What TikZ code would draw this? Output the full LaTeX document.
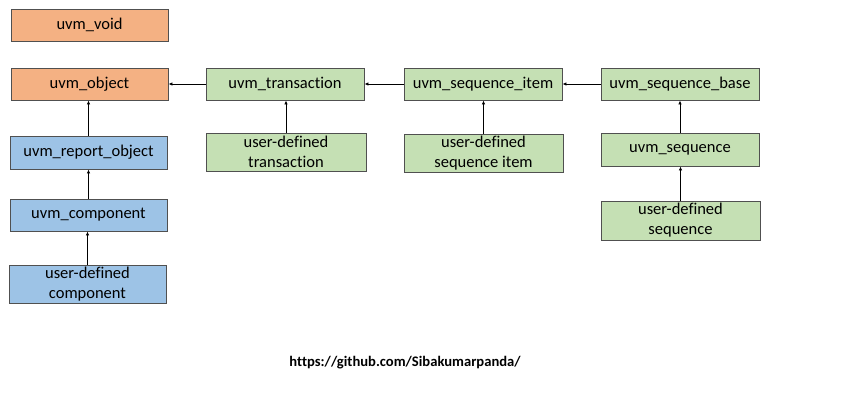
\documentclass[tikz,border=0pt]{standalone}
\usepackage{fontspec}
\setmainfont{Carlito}[RawFeature={-liga;-dlig;-clig}]
\usepackage{tikz}
\usetikzlibrary{arrows.meta}
\definecolor{orangebox}{HTML}{F4B183}
\definecolor{bluebox}{HTML}{9DC3E6}
\definecolor{greenbox}{HTML}{C5E0B4}
\definecolor{edgegrey}{HTML}{505050}
\tikzset{
  cls/.style={draw=edgegrey, line width=0.9pt, minimum width=157pt, minimum height=32pt,
    inner sep=0pt, align=center, font=\fontsize{16.5}{20}\selectfont},
  basecls/.style={cls, fill=orangebox},
  compcls/.style={cls, fill=bluebox},
  seqcls/.style={cls, fill=greenbox},
  inherit/.style={draw=edgegrey, line width=0.8pt, -{Latex[length=4pt,width=3.5pt]}, black}
}

\begin{document}
\begin{tikzpicture}[x=1pt, y=-1pt]
        \useasboundingbox (0,0) rectangle (844,413);
        % base classes
        \node[basecls] (void) at (89.5,25) {uvm\_void};
        \node[basecls] (object) at (89.5,84) {uvm\_object};
        % component side
        \node[compcls, minimum height=33pt] (report) at (88.5,152.5) {uvm\_report\_object};
        \node[compcls] (component) at (88.5,215) {uvm\_component};
        \node[compcls, minimum height=38pt] (udcomponent) at (87.5,284) {user-defined\\component};
        % transaction side
        \node[seqcls, minimum width=158pt] (transaction) at (285,84) {uvm\_transaction};
        \node[seqcls, minimum width=160pt, minimum height=38pt] (udtransaction) at (286,152) {user-defined\\transaction};
        \node[seqcls, minimum width=158pt] (seqitem) at (483,84) {uvm\_sequence\_item};
        \node[seqcls, minimum width=159pt, minimum height=38pt] (udseqitem) at (483.5,153) {user-defined\\sequence item};
        \node[seqcls, minimum width=158pt] (seqbase) at (680,84) {uvm\_sequence\_base};
        \node[seqcls, minimum width=158pt, minimum height=33pt] (sequence) at (680,149.5) {uvm\_sequence};
        \node[seqcls, minimum width=159pt, minimum height=39pt] (udsequence) at (680.5,220.5) {user-defined\\sequence};
        % link
        \node[font=\bfseries\fontsize{14.6}{16}\selectfont] (link) at (405,363) {https://github.com/Sibakumarpanda/};
        % inheritance arrows
        \draw[inherit] (report.north) -- (report.north |- object.south);
        \draw[inherit] (component.north) -- (component.north |- report.south);
        \draw[inherit] (udcomponent.north) -- (udcomponent.north |- component.south);
        \draw[inherit] (transaction.west) -- (object.east);
        \draw[inherit] (udtransaction.north) -- (udtransaction.north |- transaction.south);
        \draw[inherit] (seqitem.west) -- (transaction.east);
        \draw[inherit] (udseqitem.north) -- (udseqitem.north |- seqitem.south);
        \draw[inherit] (seqbase.west) -- (seqitem.east);
        \draw[inherit] (sequence.north) -- (sequence.north |- seqbase.south);
        \draw[inherit] (udsequence.north) -- (udsequence.north |- sequence.south);
\end{tikzpicture}
\end{document}
